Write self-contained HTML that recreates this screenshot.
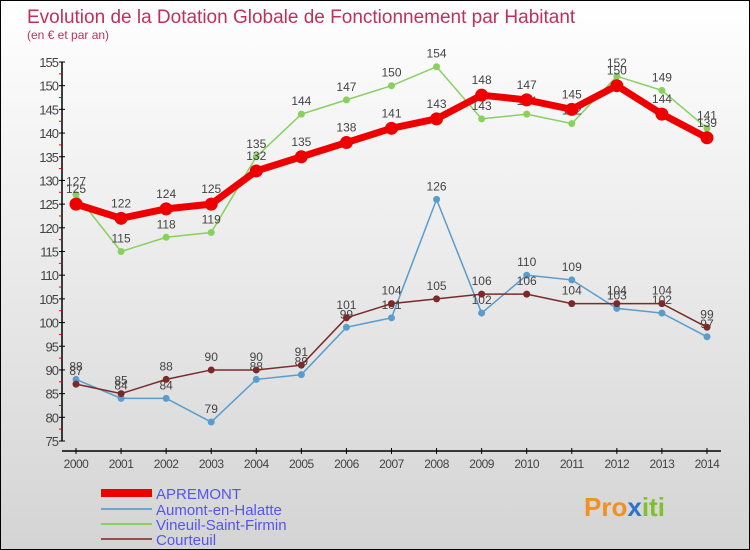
<!DOCTYPE html>
<html><head><meta charset="utf-8"><style>
body{margin:0}
#c{width:750px;height:550px;position:relative;box-sizing:border-box;border:1px solid #000;background:linear-gradient(#ffffff,#d4d4d4);font-family:"Liberation Sans",sans-serif;overflow:hidden}
</style></head><body>
<div id="c">
<svg id="s" width="748" height="548" style="position:absolute;left:0;top:0">
<text x="26" y="22" font-size="19" fill="#c0305a">Evolution de la Dotation Globale de Fonctionnement par Habitant</text>
<text x="26" y="38" font-size="12" fill="#c0305a">(en € et par an)</text>
<g id="axes"></g><g id="series"></g>
<g>
<line x1="100" y1="492" x2="151" y2="492" stroke="#ee0000" stroke-width="8"/>
<text x="155" y="498" font-size="15" fill="#5555ee">APREMONT</text>
<line x1="100" y1="508" x2="151" y2="508" stroke="#6aa6d0" stroke-width="2"/>
<text x="155" y="514" font-size="15" fill="#5555ee">Aumont-en-Halatte</text>
<line x1="100" y1="523" x2="151" y2="523" stroke="#88d060" stroke-width="2"/>
<text x="155" y="529" font-size="15" fill="#5555ee">Vineuil-Saint-Firmin</text>
<line x1="100" y1="538" x2="151" y2="538" stroke="#905050" stroke-width="2"/>
<text x="155" y="544" font-size="15" fill="#5555ee">Courteuil</text>
</g>
<text x="583" y="515" font-size="26" font-weight="bold" fill="#f09020">Pro<tspan fill="#3070d0">x</tspan><tspan fill="#80c030">iti</tspan></text>
</svg>
</div>
<script>
const years=[2000,2001,2002,2003,2004,2005,2006,2007,2008,2009,2010,2011,2012,2013,2014];
const apremont=[125,122,124,125,132,135,138,141,143,148,147,145,150,144,139];
const aumont=[88,84,84,79,88,89,99,101,126,102,110,109,103,102,97];
const vineuil=[127,115,118,119,135,144,147,150,154,143,144,142,152,149,141];
const courteuil=[87,85,88,90,90,91,101,104,105,106,106,104,104,104,99];
const yTicks=[75,80,85,90,95,100,105,110,115,120,125,130,135,140,145,150,155];
const NS="http://www.w3.org/2000/svg";
const xs=i=>75+i*45.07;
const ys=v=>440-(v-75)*(379/80);
function mk(t,a,p){const e=document.createElementNS(NS,t);for(const k in a)e.setAttribute(k,a[k]);p.appendChild(e);return e;}
const ax=document.getElementById('axes');
let l=mk('line',{x1:61,y1:ys(155),x2:61,y2:ys(75),stroke:'#000','stroke-width':1.5},ax);


l=mk('line',{x1:61,y1:450,x2:720,y2:450,stroke:'#000','stroke-width':1.5},ax);


yTicks.forEach((v,i)=>{
  mk('line',{x1:58,y1:ys(v),x2:64,y2:ys(v),stroke:'#000'},ax);
  if(i<yTicks.length-1) mk('line',{x1:58,y1:ys(v+2.5),x2:61,y2:ys(v+2.5),stroke:'#e00'},ax);
  const t=mk('text',{x:57,y:ys(v)+5,'font-size':13,fill:'#444','text-anchor':'end','letter-spacing':'-1'},ax);
  t.textContent=v;
  
  
});
years.forEach((y,i)=>{
  mk('line',{x1:xs(i),y1:447,x2:xs(i),y2:453,stroke:'#000'},ax);
  const t=mk('text',{x:xs(i),y:467,'font-size':12,fill:'#444','text-anchor':'middle','letter-spacing':'-0.5'},ax);
  t.textContent=y;
  
  
});
const sg=document.getElementById('series');
function draw(d,col,w,r,name,dy){
  const g=mk('g',{},sg);
  
  
  const p=mk('polyline',{points:d.map((v,i)=>xs(i)+','+ys(v)).join(' '),fill:'none',stroke:col,'stroke-width':w},g);
  
  
  d.forEach((v,i)=>{
    const c=mk('circle',{cx:xs(i),cy:ys(v),r:r,fill:col},g);
    
    
    const t=mk('text',{x:xs(i),y:ys(v)+dy,'font-size':12,fill:'#444','text-anchor':'middle'},g);
    t.textContent=v;
    
    
  });
}
draw(vineuil,'#88d060',1.5,3.5,'vineuil',-9);
draw(aumont,'#5a9ccc',1.5,3.5,'aumont',-9);
draw(courteuil,'#7a2a2a',1.5,3.5,'courteuil',-9);
draw(apremont,'#ee0000',7,6.5,'apremont',-11);
</script>
</body></html>
